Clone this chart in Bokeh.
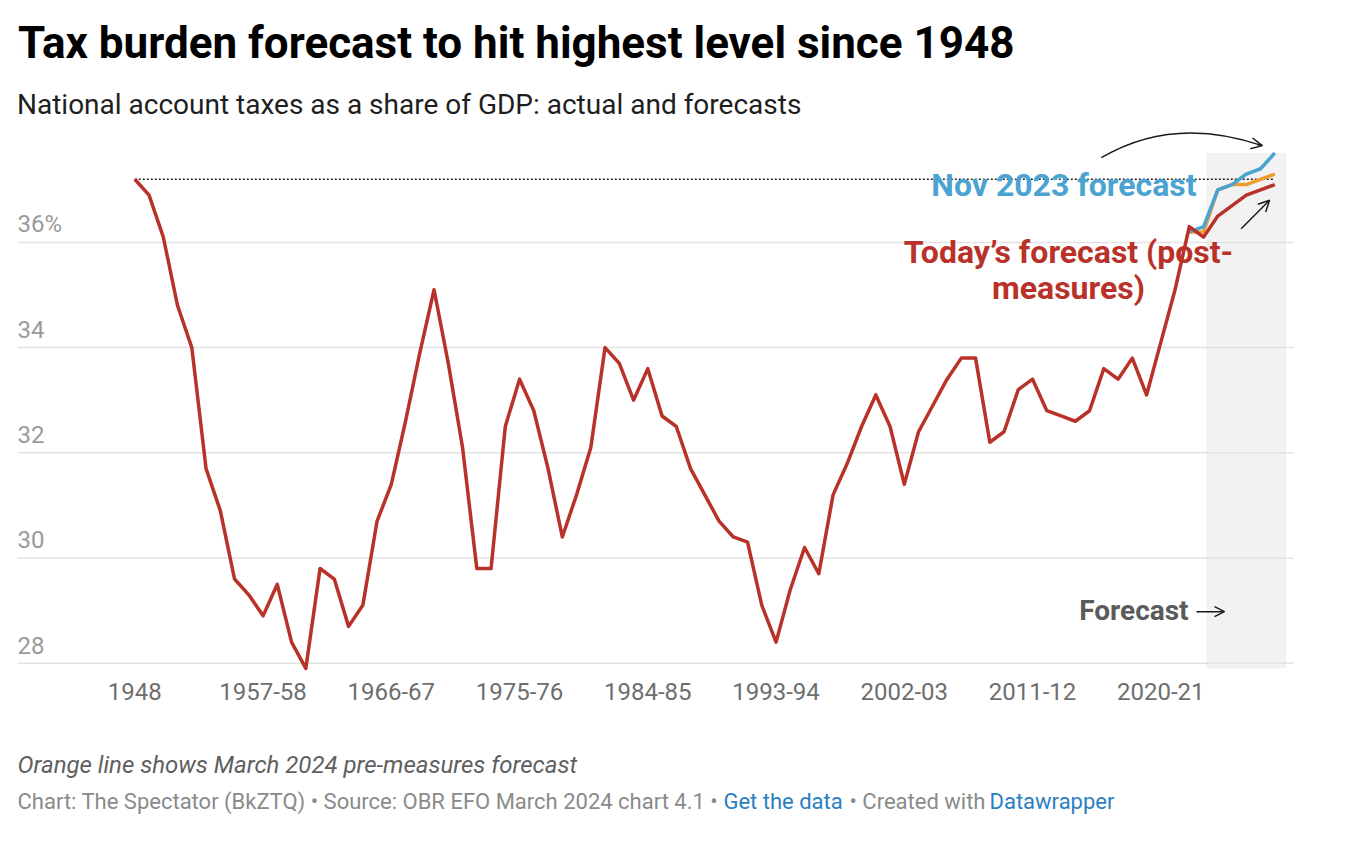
from bokeh.plotting import figure
from bokeh.models import (Label, Arrow, OpenHead, BoxAnnotation, FixedTicker, Range1d)
from bokeh.embed import file_html
from bokeh.resources import INLINE

# ---------------- data ----------------
years = list(range(1948, 2029))
todays_forecast = [
    37.2, 36.9, 36.1, 34.8, 34.0, 31.7, 30.9, 29.6, 29.3, 28.9,   # 1948-1957
    29.5, 28.4, 27.9, 29.8, 29.6, 28.7, 29.1, 30.7, 31.4, 32.6,   # 1958-1967
    33.9, 35.1, 33.7, 32.1, 29.8, 29.8, 32.5, 33.4, 32.8, 31.7,   # 1968-1977
    30.4, 31.2, 32.1, 34.0, 33.7, 33.0, 33.6, 32.7, 32.5, 31.7,   # 1978-1987
    31.2, 30.7, 30.4, 30.3, 29.1, 28.4, 29.4, 30.2, 29.7, 31.2,   # 1988-1997
    31.8, 32.5, 33.1, 32.5, 31.4, 32.4, 32.9, 33.4, 33.8, 33.8,   # 1998-2007
    32.2, 32.4, 33.2, 33.4, 32.8, 32.7, 32.6, 32.8, 33.6, 33.4,   # 2008-2017
    33.8, 33.1, 34.1, 35.1, 36.3, 36.1, 36.5, 36.7, 36.9, 37.0,   # 2018-2027
    37.1,                                                         # 2028
]
forecast_years = list(range(2022, 2029))
nov2023_forecast = [36.2, 36.3, 37.0, 37.1, 37.3, 37.4, 37.7]
pre_measures_forecast = [36.2, 36.2, 37.0, 37.1, 37.1, 37.2, 37.3]

x_tick_years = [1948, 1957, 1966, 1975, 1984, 1993, 2002, 2011, 2020]
x_tick_labels = ["1948", "1957-58", "1966-67", "1975-76", "1984-85",
                 "1993-94", "2002-03", "2011-12", "2020-21"]
y_ticks = [28, 30, 32, 34, 36]
y_tick_labels = ["28", "30", "32", "34", "36%"]

forecast_band = (2023.2, 2028.8)

RED = "#b93229"
BLUE = "#4aa3d0"
ORANGE = "#ee9b2f"
FONT = "Roboto"

# ---------------- figure (frame covers the whole canvas) ----------------
CX0, CX1 = 1938.575, 2033.312      # canvas extent in years
CY0, CY1 = 24.439, 40.599          # canvas extent in %
PX0, PX1 = 1939.768, 2029.312      # chart area (grid line extent)
PY0 = 27.880                       # chart area bottom

p = figure(width=1350, height=850, x_range=Range1d(CX0, CX1), y_range=Range1d(CY0, CY1),
           output_backend="svg", toolbar_location=None, y_axis_location=None,
           min_border=0, min_border_left=0, min_border_right=0,
           min_border_top=0, min_border_bottom=0)
p.title.visible = False
p.outline_line_color = None
p.background_fill_color = "white"
p.border_fill_color = "white"
p.xgrid.visible = False
p.ygrid.visible = False

ax = p.xaxis[0]
ax.fixed_location = PY0
ax.ticker = FixedTicker(ticks=x_tick_years)
ax.major_label_overrides = {y: l for y, l in zip(x_tick_years, x_tick_labels)}
ax.axis_line_color = None
ax.major_tick_line_color = None
ax.minor_tick_line_color = None
ax.major_label_standoff = 7
ax.major_label_text_font = FONT
ax.major_label_text_font_size = "24px"
ax.major_label_text_color = "#6e6e6e"

# forecast shading
p.add_layout(BoxAnnotation(left=forecast_band[0], right=forecast_band[1],
                           bottom=min(todays_forecast), top=max(nov2023_forecast),
                           fill_color="#f2f2f2", fill_alpha=1.0, line_color=None,
                           level="image"))

# horizontal grid lines over the chart area
p.segment(x0=[PX0] * len(y_ticks), x1=[PX1] * len(y_ticks), y0=y_ticks, y1=y_ticks,
          line_color="#e3e3e3", line_width=1.5)

# y tick labels (Datawrapper style, sitting above the grid lines)
p.text(x=[PX0] * len(y_ticks), y=y_ticks, text=y_tick_labels,
       text_font={"value": FONT}, text_font_size="24px", text_color="#9a9a9a",
       text_align="left", text_baseline="alphabetic", y_offset=-18)

# dotted 1948 reference level
p.line([years[0], years[-1]], [todays_forecast[0], todays_forecast[0]],
       line_color="#222222", line_width=1.6, line_dash="2 2")

# series
p.line(forecast_years, pre_measures_forecast, line_color=ORANGE, line_width=3.5, line_join="round")
p.line(forecast_years, nov2023_forecast, line_color=BLUE, line_width=3.5, line_join="round")
p.line(years, todays_forecast, line_color=RED, line_width=3.5, line_join="round")

# ---------------- annotations ----------------
p.add_layout(Label(x=2022.51, y=37.092, text="Nov 2023 forecast", text_font=FONT,
                   text_font_size="32px", text_font_style="bold", text_color=BLUE,
                   text_align="right", text_baseline="alphabetic"))
p.add_layout(Label(x=2013.52, y=35.814, text="Today\u2019s forecast (post-", text_font=FONT,
                   text_font_size="32px", text_font_style="bold", text_color=RED,
                   text_align="center", text_baseline="alphabetic"))
p.add_layout(Label(x=2013.52, y=35.133, text="measures)", text_font=FONT,
                   text_font_size="32px", text_font_style="bold", text_color=RED,
                   text_align="center", text_baseline="alphabetic"))
p.add_layout(Label(x=2021.95, y=28.998, text="Forecast", text_font=FONT,
                   text_font_size="28px", text_font_style="bold", text_color="#5b5b5b",
                   text_align="right", text_baseline="alphabetic"))

# arrows
p.quadratic(x0=2015.82, y0=37.61, x1=2027.12, y1=37.84, cx=2020.88, cy=38.42,
            line_color="#1a1a1a", line_width=1.5)
p.add_layout(Arrow(end=OpenHead(size=11, line_width=1.5, line_color="#1a1a1a"),
                   x_start=2026.76, y_start=37.86, x_end=2027.12, y_end=37.84,
                   line_width=1.5, line_color="#1a1a1a"))
p.add_layout(Arrow(end=OpenHead(size=11, line_width=1.5, line_color="#1a1a1a"),
                   x_start=2025.64, y_start=36.26, x_end=2027.63, y_end=36.80,
                   line_width=1.5, line_color="#1a1a1a"))
p.add_layout(Arrow(end=OpenHead(size=10, line_width=1.5, line_color="#1a1a1a"),
                   x_start=2022.5, y_start=28.98, x_end=2024.47, y_end=28.98,
                   line_width=1.5, line_color="#1a1a1a"))

# ---------------- titles & footer ----------------
p.add_layout(Label(x=1939.80, y=39.787, text="Tax burden forecast to hit highest level since 1948",
                   text_font=FONT, text_font_size="44px", text_font_style="bold",
                   text_color="#000000", text_baseline="alphabetic"))
p.add_layout(Label(x=1939.73, y=38.616, text="National account taxes as a share of GDP: actual and forecasts",
                   text_font=FONT, text_font_size="28px", text_color="#1e1e1e",
                   text_baseline="alphabetic"))
p.add_layout(Label(x=1939.77, y=26.074, text="Orange line shows March 2024 pre-measures forecast",
                   text_font=FONT, text_font_size="24px", text_font_style="italic",
                   text_color="#5f5f5f", text_baseline="alphabetic"))
footer_parts = [
    (1939.77, "Chart: The Spectator (BkZTQ) \u2022 Source: OBR EFO March 2024 chart 4.1 \u2022", "#8a8a8a"),
    (1989.31, "Get the data", "#2a7fc1"),
    (1998.15, "\u2022 Created with", "#8a8a8a"),
    (2007.98, "Datawrapper", "#2a7fc1"),
]
for fx, ftext, fcol in footer_parts:
    p.add_layout(Label(x=fx, y=25.362, text=ftext, text_font=FONT, text_font_size="22px",
                       text_color=fcol, text_baseline="alphabetic"))

open("out.html", "w").write(file_html(p, INLINE))
